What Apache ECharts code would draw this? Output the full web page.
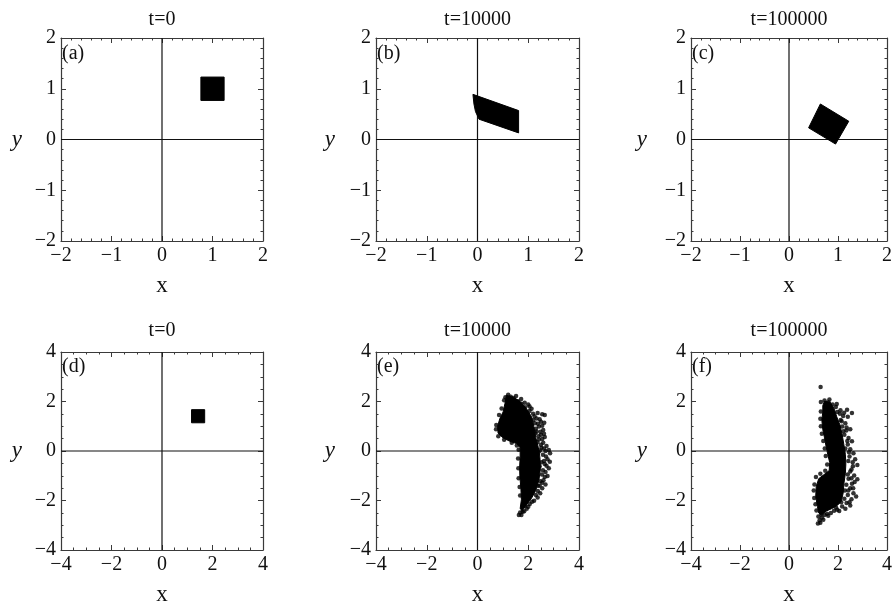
<!DOCTYPE html>
<html>
<head>
<meta charset="utf-8">
<script src="https://cdn.jsdelivr.net/npm/echarts@6/dist/echarts.min.js"></script>
<style>
  html, body { margin: 0; padding: 0; background: #fff; }
  #chart { width: 895px; height: 607px; }
</style>
</head>
<body>
<div id="chart"></div>
<script>
// axis ranges: top row -2..2 (step 1), bottom row -4..4 (step 2)
const rangeTop = [-2, 2];
const stepTop = 1;
const rangeBottom = [-4, 4];
const stepBottom = 2;

const titles = ['t=0', 't=10000', 't=100000', 't=0', 't=10000', 't=100000'];
const panelLabels = ['(a)', '(b)', '(c)', '(d)', '(e)', '(f)'];

// solid regions (vertices)
const shapeA = [[0.77, 0.77], [1.23, 0.77], [1.23, 1.23], [0.77, 1.23]];
const shapeB = [[-0.09, 0.89], [0.81, 0.57], [0.81, 0.13], [0.03, 0.40], [-0.04, 0.55], [-0.07, 0.70]];
const shapeC = [[0.64, 0.70], [1.22, 0.36], [0.95, -0.09], [0.40, 0.23]];
const shapeD = [[1.17, 1.14], [1.69, 1.14], [1.69, 1.67], [1.17, 1.67]];

// panel (e): dense core + loose points
const coreE = [
  [1.14, 2.25], [1.41, 2.17], [1.67, 2.01], [1.93, 1.71], [2.13, 1.38], [2.22, 0.99],
  [2.30, 0.53], [2.40, 0.13], [2.46, -0.26], [2.48, -0.72], [2.42, -1.18], [2.30, -1.58],
  [2.13, -1.91], [1.93, -2.17], [1.76, -2.41], [1.68, -2.33], [1.73, -1.97], [1.71, -1.51],
  [1.67, -1.05], [1.66, -0.66], [1.68, -0.26], [1.68, 0.13], [1.54, 0.30], [1.28, 0.39],
  [1.01, 0.53], [0.81, 0.72], [0.79, 0.99], [0.88, 1.31], [1.01, 1.58], [1.08, 1.91]
];
const dotsE = [
  [1.21, 2.27], [1.31, 2.19], [1.42, 2.14], [1.47, 2.04], [1.60, 2.01], [1.73, 1.91],
  [1.87, 1.77], [2.00, 1.88], [2.13, 1.71], [2.19, 1.51], [2.37, 1.54], [2.55, 1.48],
  [2.65, 1.45], [2.33, 1.31], [2.50, 1.18], [2.63, 1.14], [2.26, 1.12], [2.42, 0.99],
  [2.59, 0.85], [2.33, 0.79], [2.50, 0.66], [2.65, 0.57], [2.42, 0.46], [2.59, 0.33],
  [2.72, 0.20], [2.52, 0.13], [2.68, 0.00], [2.81, 0.04], [2.86, -0.09], [2.76, -0.33],
  [2.85, -0.43], [2.65, -0.53], [2.81, -0.70], [2.68, -0.85], [2.76, -1.01], [2.60, -1.18],
  [2.68, -1.35], [2.55, -1.51], [2.47, -1.71], [2.37, -1.88], [2.23, -2.01], [2.06, -2.14],
  [1.94, -2.33], [1.84, -2.43], [1.73, -2.59], [1.63, -2.59], [1.80, -2.17], [1.97, -1.97],
  [2.05, 1.62], [2.25, 1.40], [2.45, 1.28], [2.38, 1.10], [2.55, 1.02], [2.30, 0.90],
  [2.48, 0.78], [2.62, 0.70], [2.40, 0.60], [2.55, 0.48], [2.50, 0.25], [2.62, 0.10],
  [2.58, -0.15], [2.70, -0.22], [2.62, -0.40], [2.72, -0.60], [2.58, -0.78], [2.65, -1.05],
  [2.55, -1.28], [2.45, -1.40], [2.38, -1.62], [2.30, -1.78], [2.15, -2.05], [2.00, -2.25],
  [1.88, -2.20], [1.78, -2.45], [1.68, -2.48], [0.74, 1.05], [0.73, 0.88], [0.82, 0.60],
  [1.05, 0.45], [1.35, 0.33], [1.55, 0.22], [1.62, 0.05], [1.60, -0.30], [1.61, -0.70],
  [1.62, -1.10], [1.66, -1.45], [1.68, -1.80], [1.05, 2.05], [1.10, 2.17], [1.52, 2.22],
  [1.72, 2.10], [1.86, 1.95], [2.05, 1.80], [0.85, 1.45], [0.95, 1.72],
  [2.36, 0.35], [2.46, 0.02], [2.52, -0.45], [2.54, -0.95], [2.48, -1.22], [2.38, -1.40],
  [2.28, 0.72], [2.20, 1.25], [2.45, -0.62], [2.40, -0.05]
];

// panel (f): dense core + loose points
const coreF = [
  [1.45, 2.01], [1.68, 1.97], [1.84, 1.71], [1.95, 1.38], [2.08, 1.05], [2.17, 0.66],
  [2.24, 0.26], [2.30, -0.13], [2.32, -0.53], [2.30, -0.92], [2.24, -1.32], [2.21, -1.71],
  [2.13, -2.04], [1.97, -2.20], [1.74, -2.33], [1.51, -2.43], [1.32, -2.59], [1.21, -2.50],
  [1.16, -2.24], [1.09, -1.84], [1.11, -1.45], [1.21, -1.12], [1.42, -0.96], [1.64, -0.79],
  [1.66, -0.46], [1.58, -0.13], [1.51, 0.20], [1.45, 0.53], [1.38, 0.86], [1.34, 1.25],
  [1.38, 1.58], [1.38, 1.84]
];
const dotsF = [
  [1.29, 2.59], [1.45, 2.04], [1.61, 1.97], [1.78, 1.88], [1.91, 1.78], [1.97, 1.58],
  [2.08, 1.51], [2.37, 1.67], [2.57, 1.54], [2.40, 1.38], [2.21, 1.41], [2.11, 1.25],
  [2.30, 1.12], [2.17, 0.99], [2.50, 0.88], [2.34, 0.83], [2.26, 0.66], [2.43, 0.53],
  [2.57, 0.39], [2.40, 0.26], [2.50, 0.07], [2.63, -0.09], [2.47, -0.22], [2.70, -0.33],
  [2.79, -0.57], [2.61, -0.62], [2.50, -0.83], [2.66, -0.99], [2.43, -1.12], [2.57, -1.32],
  [2.34, -1.36], [2.50, -1.51], [2.63, -1.71], [2.40, -1.78], [2.26, -1.93], [2.47, -2.07],
  [2.17, -2.24], [1.97, -2.37], [1.84, -2.41], [1.71, -2.50], [1.55, -2.54], [1.45, -2.59],
  [1.34, -2.70], [1.25, -2.80], [1.18, -2.93], [1.32, -2.57], [2.30, -2.33], [2.13, -2.07],
  [2.74, -1.84], [2.79, -1.14], [1.30, 1.98], [1.30, 1.60], [1.28, 1.30], [1.30, 1.00],
  [1.34, 0.70], [1.40, 0.40], [1.46, 0.10], [1.50, -0.20], [1.56, -0.55], [1.48, -0.80],
  [1.28, -0.92], [1.10, -1.05], [1.04, -1.35], [1.01, -1.60], [1.03, -1.90], [1.08, -2.15],
  [1.12, -2.40], [1.20, -2.65], [2.25, 1.55], [2.15, 1.20], [2.35, 0.95], [2.22, 0.80],
  [2.38, 0.40], [2.30, 0.10], [2.45, -0.05], [2.60, -0.45], [2.42, -0.40], [2.55, -0.75],
  [2.40, -0.95], [2.55, -1.10], [2.68, -1.25], [2.42, -1.60], [2.55, -1.95], [2.35, -2.10],
  [2.28, -1.60], [2.62, -1.50], [2.50, -2.20], [2.05, -2.42], [1.92, -2.28], [1.60, -2.62],
  [1.40, -2.78], [1.28, -2.90], [1.95, 1.90], [1.65, 2.08], [2.10, 1.65]
];

const shapes = [[shapeA], [shapeB], [shapeC], [shapeD], [coreE], [coreF]];
const dots = [null, null, null, null, dotsE, dotsF];

const FONT = "'Liberation Serif', 'DejaVu Serif', serif";
const boxes = [
  { left: 61, top: 38, width: 202, height: 203, yGap: 39 },
  { left: 376, top: 38, width: 203, height: 203, yGap: 41 },
  { left: 691, top: 38, width: 202, height: 203, yGap: 44 },
  { left: 61, top: 352, width: 202, height: 202, yGap: 39 },
  { left: 376, top: 352, width: 203, height: 202, yGap: 41 },
  { left: 691, top: 352, width: 202, height: 202, yGap: 44 }
];

const minus = v => String(v).replace('-', '\u2212');

const grid = [];
const xAxis = [];
const yAxis = [];
const series = [];
const graphic = [];

boxes.forEach((b, i) => {
  const row = i < 3 ? 0 : 1;
  const range = row === 0 ? rangeTop : rangeBottom;
  const step = row === 0 ? stepTop : stepBottom;
  const minorSplit = row === 0 ? 5 : 4;

  grid.push({ left: b.left, top: b.top, width: b.width, height: b.height });

  const base = {
    gridIndex: i,
    type: 'value',
    min: range[0],
    max: range[1],
    interval: step,
    splitLine: { show: false },
    axisLine: { show: true, onZero: false, lineStyle: { color: '#3a3a3a', width: 1.2 } },
    axisTick: { show: true, inside: true, length: 5, lineStyle: { color: '#3a3a3a' } },
    minorTick: { show: true, splitNumber: minorSplit, length: 2.5, lineStyle: { color: '#3a3a3a' } }
  };
  const label = {
    color: '#111', fontFamily: FONT, fontSize: 20, margin: 5, formatter: minus
  };

  xAxis.push(Object.assign({}, base, {
    position: 'bottom',
    axisLabel: label,
    name: 'x', nameLocation: 'middle', nameGap: 33,
    nameTextStyle: { color: '#111', fontFamily: FONT, fontSize: 23 }
  }));
  xAxis.push(Object.assign({}, base, {
    position: 'top',
    axisLabel: { show: false },
    name: titles[i], nameLocation: 'middle', nameGap: row === 0 ? 8 : 11,
    nameTextStyle: { color: '#111', fontFamily: FONT, fontSize: 20 }
  }));
  yAxis.push(Object.assign({}, base, {
    position: 'left',
    axisLabel: label,
    name: 'y', nameLocation: 'middle', nameGap: b.yGap, nameRotate: 0,
    nameTextStyle: { color: '#111', fontFamily: FONT, fontSize: 23, fontStyle: 'italic' }
  }));
  yAxis.push(Object.assign({}, base, {
    position: 'right',
    axisLabel: { show: false }
  }));

  // zero lines
  series.push({
    type: 'line', xAxisIndex: 2 * i, yAxisIndex: 2 * i,
    data: [[0, range[0]], [0, range[1]]],
    symbol: 'none', silent: true, z: 1,
    lineStyle: { color: '#111', width: 1.2 }
  });
  series.push({
    type: 'line', xAxisIndex: 2 * i, yAxisIndex: 2 * i,
    data: [[range[0], 0], [range[1], 0]],
    symbol: 'none', silent: true, z: 1,
    lineStyle: { color: '#111', width: 1.2 }
  });

  shapes[i].forEach(pts => {
    series.push({
      type: 'custom', xAxisIndex: 2 * i, yAxisIndex: 2 * i,
      data: pts, z: 3, silent: true,
      renderItem: (params, api) => {
        if (params.dataIndex !== 0) return;
        return {
          type: 'polygon',
          shape: { points: pts.map(p => api.coord(p)) },
          style: { fill: '#000', stroke: '#000', lineWidth: 1 }
        };
      }
    });
  });

  if (dots[i]) {
    series.push({
      type: 'scatter', xAxisIndex: 2 * i, yAxisIndex: 2 * i,
      data: dots[i], symbol: 'circle', symbolSize: 4.5, z: 4, silent: true,
      itemStyle: { color: '#000' }
    });
  }

  graphic.push({
    type: 'text', left: b.left + 1, top: b.top + (row === 0 ? 6 : 5),
    style: { text: panelLabels[i], font: '20px ' + FONT, fill: '#111' }
  });
});

const chart = echarts.init(document.getElementById('chart'));
chart.setOption({
  animation: false,
  backgroundColor: '#fff',
  grid, xAxis, yAxis, series, graphic
});
</script>
</body>
</html>
